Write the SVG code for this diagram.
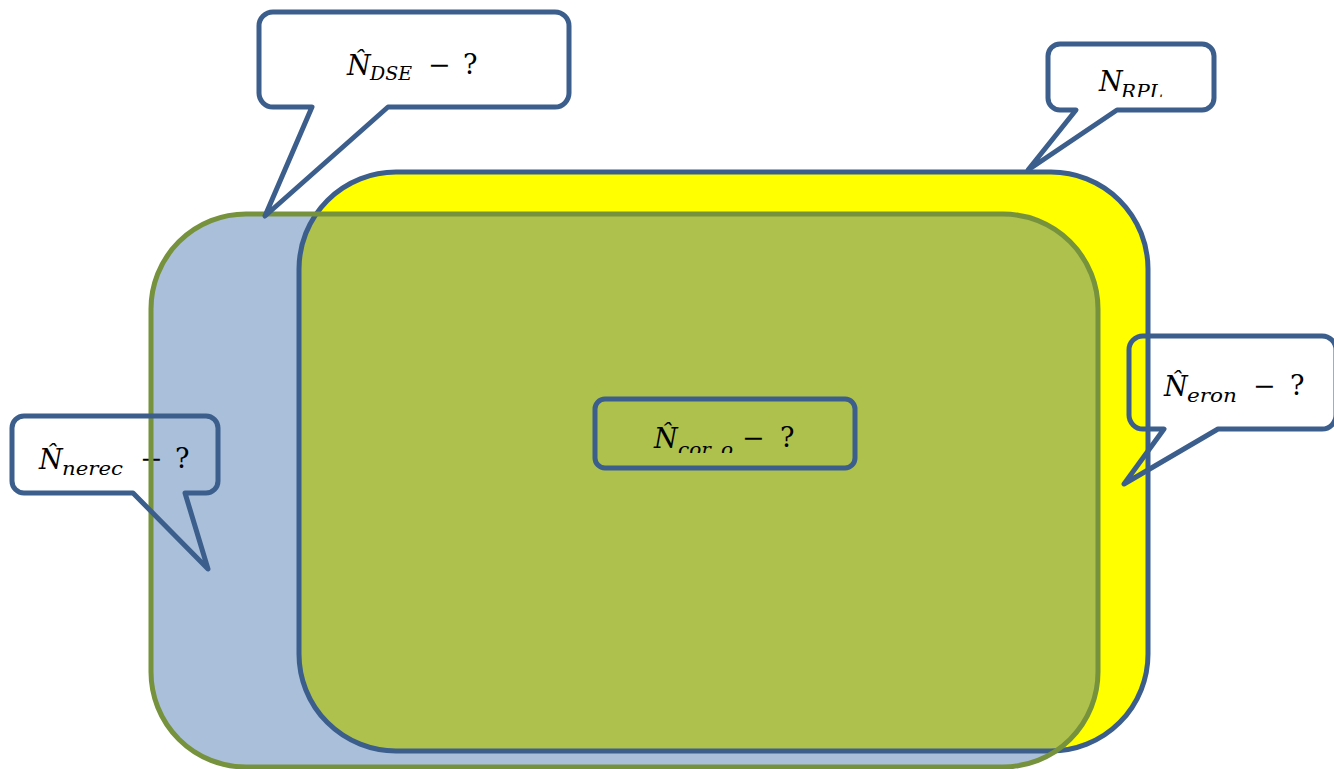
<svg xmlns="http://www.w3.org/2000/svg" width="1334" height="769" viewBox="0 0 1334 769">
<defs>
<style>
.cfill{fill:#ffffff;stroke:none}
.cstroke{fill:none;stroke:#3B5E8C;stroke-width:5;stroke-linejoin:round}
.n{font-family:"DejaVu Serif","Liberation Serif",serif;font-style:italic;font-size:27px;fill:#000}
.s{font-family:"DejaVu Serif","Liberation Serif",serif;font-style:italic;font-size:19px;fill:#000}
.o{font-family:"DejaVu Serif","Liberation Serif",serif;font-size:27px;fill:#000}
</style>
<clipPath id="clipY"><rect x="299" y="172" width="849" height="579" rx="97"/></clipPath>
<clipPath id="clipRPL"><rect x="1040" y="40" width="200" height="57"/></clipPath>
<clipPath id="clipCor"><rect x="590" y="395" width="270" height="58"/></clipPath>
<path id="pDSE" d="M273,12 H555 A14,14 0 0 1 569,26 V93 A14,14 0 0 1 555,107 H388 L265,216 L312,107 H273 A14,14 0 0 1 259,93 V26 A14,14 0 0 1 273,12 Z"/>
<path id="pRPL" d="M1060,44 H1202 A12,12 0 0 1 1214,56 V98 A12,12 0 0 1 1202,110 H1117 L1028,170 L1076,110 H1060 A12,12 0 0 1 1048,98 V56 A12,12 0 0 1 1060,44 Z"/>
<path id="pNerec" d="M24,416 H206 A12,12 0 0 1 218,428 V481 A12,12 0 0 1 206,493 H185 L208,569 L133,493 H24 A12,12 0 0 1 12,481 V428 A12,12 0 0 1 24,416 Z"/>
<path id="pEron" d="M1143,336 H1322 A14,14 0 0 1 1336,350 V415 A14,14 0 0 1 1322,429 H1218 L1124,484 L1164,429 H1143 A14,14 0 0 1 1129,415 V350 A14,14 0 0 1 1143,336 Z"/>
</defs>
<rect width="1334" height="769" fill="#ffffff"/>

<g id="callout-fills">
<use href="#pDSE" class="cfill"/>
<use href="#pRPL" class="cfill"/>
<use href="#pNerec" class="cfill"/>
<use href="#pEron" class="cfill"/>
</g>

<g id="set-rpl-fill">
<rect x="299" y="172" width="849" height="579" rx="97" fill="#FFFF00"/>
</g>
<g id="set-dse-fill">
<rect x="151" y="214" width="947" height="553" rx="95" fill="#AABFDA"/>
<rect x="151" y="214" width="947" height="553" rx="95" fill="#AEC14C" clip-path="url(#clipY)"/>
</g>

<g id="callout-texts">
<g id="t-nerec">
<text class="n" x="39" y="469">N̂</text>
<text class="s" x="62" y="475" textLength="61" lengthAdjust="spacingAndGlyphs">nerec</text>
<text class="o" x="140" y="468">−</text>
<text class="o" x="175" y="468">?</text>
</g>
<g id="t-eron">
<text class="n" x="1164" y="396">N̂</text>
<text class="s" x="1187" y="402" textLength="50" lengthAdjust="spacingAndGlyphs">eron</text>
<text class="o" x="1253" y="395">−</text>
<text class="o" x="1290" y="395">?</text>
</g>
</g>

<g id="set-rpl">
<rect x="299" y="172" width="849" height="579" rx="97" fill="none" stroke="#3B5E8C" stroke-width="5"/>
</g>
<g id="set-dse">
<rect x="151" y="214" width="947" height="553" rx="95" fill="none" stroke="#76923C" stroke-width="5"/>
</g>

<g id="connectors"></g>

<g id="callout-dse">
<use href="#pDSE" class="cstroke"/>
<text class="n" x="347" y="75">N̂</text>
<text class="s" x="370" y="80" textLength="42" lengthAdjust="spacingAndGlyphs">DSE</text>
<text class="o" x="428" y="74">−</text>
<text class="o" x="463" y="74">?</text>
</g>
<g id="callout-rpl">
<use href="#pRPL" class="cstroke"/>
<g clip-path="url(#clipRPL)">
<text class="n" x="1099" y="91">N</text>
<text class="s" x="1121" y="98" textLength="42" lengthAdjust="spacingAndGlyphs">RPL</text>
</g>
</g>
<g id="callout-nerec">
<use href="#pNerec" class="cstroke"/>
</g>
<g id="callout-eron">
<use href="#pEron" class="cstroke"/>
</g>
<g id="box-cor">
<rect x="595" y="399" width="260" height="69" rx="10" fill="none" stroke="#3B5E8C" stroke-width="5"/>
<g clip-path="url(#clipCor)">
<text class="n" x="654" y="448">N̂</text>
<text class="s" x="678" y="456" textLength="55" lengthAdjust="spacingAndGlyphs">cor_o</text>
</g>
<text class="o" x="742" y="447">−</text>
<text class="o" x="780" y="447">?</text>
</g>
</svg>
